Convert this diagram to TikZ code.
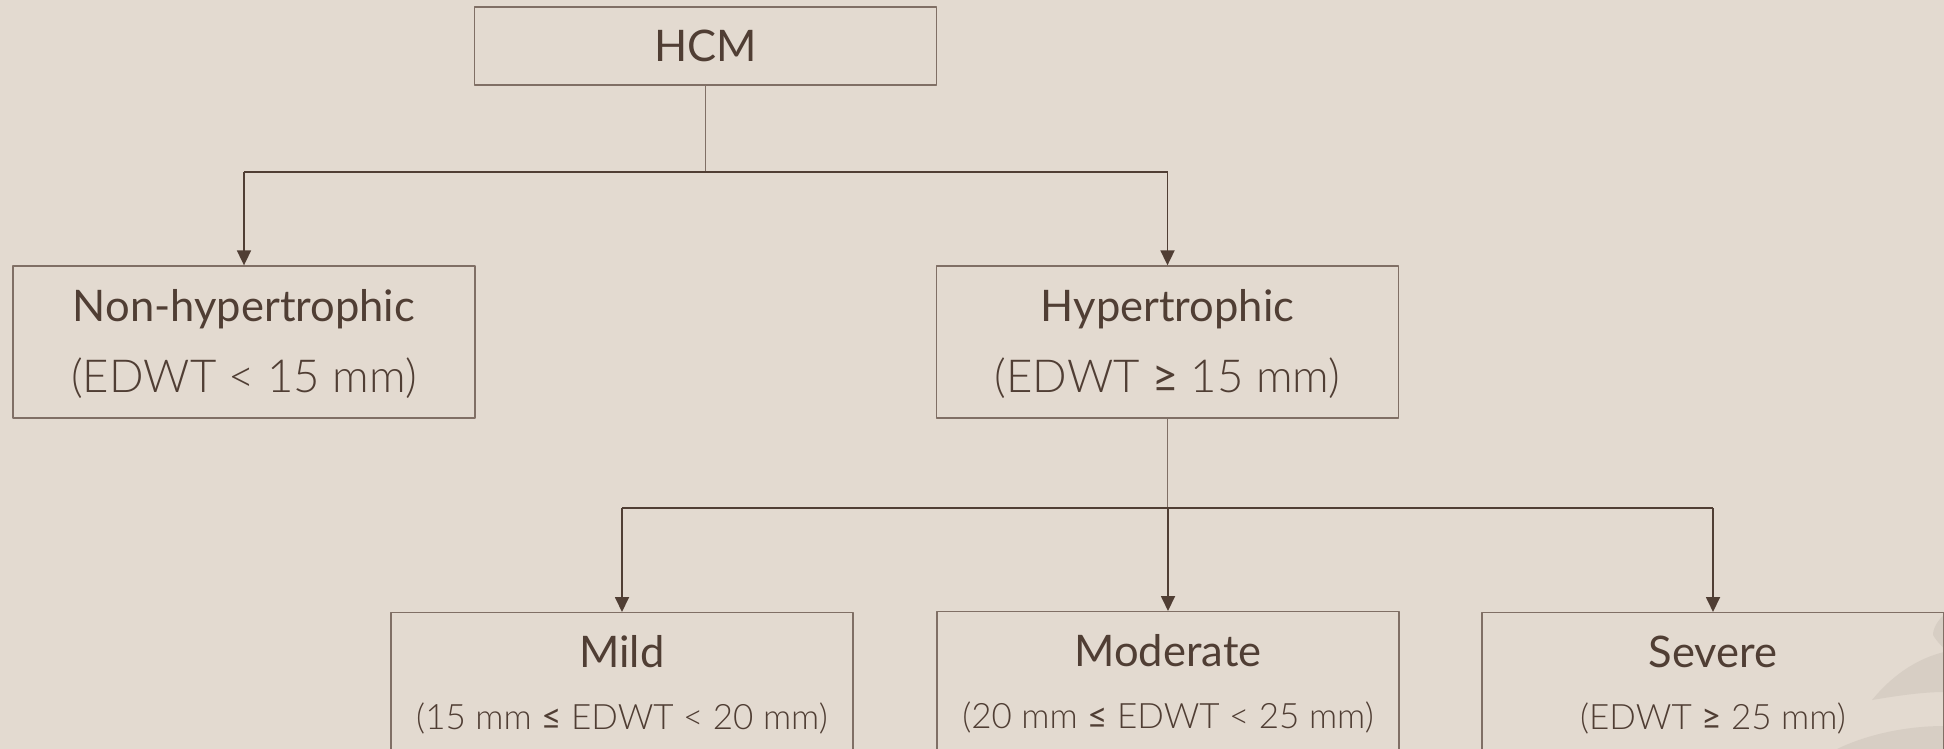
\documentclass[tikz,border=0pt]{standalone}
\usepackage{fontspec}
\setmainfont{Lato}
\newfontfamily\lightfont{Lato Light}
\usetikzlibrary{arrows.meta}

\definecolor{eeddcc}{RGB}{227,218,208}
\definecolor{ddccbb}{RGB}{215,206,196}
\definecolor{ttqqqq}{RGB}{80,62,52}
\definecolor{zzttqq}{RGB}{128,111,101}

\newcommand{\symgeq}{{\rmfamily ≥}}
\newcommand{\symleq}{{\rmfamily ≤}}

\begin{document}
\begin{tikzpicture}[line join=round,x=1pt,y=-1pt,
    box/.style={draw=zzttqq,line width=1.3pt,minimum width=462pt,inner sep=0pt,text=ttqqqq,align=center},
    upper/.style={box,minimum height=152pt,text height=103pt,text depth=3pt,font=\fontsize{43.5}{71}\selectfont},
    lower/.style={box,anchor=north,minimum height=153pt,text height=94pt,text depth=13pt,font=\fontsize{43.5}{62}\selectfont},
    link/.style={draw=ttqqqq,line width=1.8pt},
    stem/.style={draw=zzttqq,line width=1.3pt},
    arr/.style={link,-{Triangle[width=14pt,length=15pt]}}]
      \fill[eeddcc] (0,0) rectangle (1944,749);
      \useasboundingbox (0,0) rectangle (1944,749);
      \clip (0,0) rectangle (1944,749);
      % leaves in the corner
      \fill[ddccbb] (1944,615) .. controls (1938,620) and (1933,628) .. (1933,635) .. controls (1936,640) and (1940,645) .. (1944,648) -- cycle;
      \fill[ddccbb] (1872,700) .. controls (1895,672) and (1920,658) .. (1944,652) -- (1944,692) .. controls (1920,692) and (1890,697) .. cycle;
      \fill[ddccbb] (1837,749) .. controls (1870,733) and (1910,726) .. (1944,726) -- (1944,749) -- cycle;
      % boxes
      \node[box,minimum height=78pt,text height=32pt,text depth=0pt,font=\fontsize{43.5}{57}\selectfont] (hcm) at (705.5,46) {HCM};
      \node[upper] (nonhyp) at (244,342) {Non-hypertrophic\\{\lightfont\fontsize{45.5}{71}\selectfont (EDWT < 15 mm)}};
      \node[upper] (hyp) at (1167.5,342) {Hypertrophic\\{\lightfont\fontsize{45.5}{71}\selectfont (EDWT \symgeq{} 15 mm)}};
      \node[lower] (mild) at (622,612) {Mild\\{\lightfont\fontsize{35}{62}\selectfont (15 mm \symleq{} EDWT < 20 mm)}};
      \node[lower] (moderate) at (1168,611) {Moderate\\{\lightfont\fontsize{35}{62}\selectfont (20 mm \symleq{} EDWT < 25 mm)}};
      \node[lower] (severe) at (1713,612) {Severe\\{\lightfont\fontsize{35}{62}\selectfont (EDWT \symgeq{} 25 mm)}};
      % connectors
      \coordinate (split1) at (0,172);
      \coordinate (split2) at (0,508);
      \draw[stem] (hcm.south) -- (hcm.south |- split1);
      \draw[link] (nonhyp.north |- split1) -- (hyp.north |- split1);
      \draw[arr] (nonhyp.north |- split1) -- (nonhyp.north);
      \draw[arr] (hyp.north |- split1) -- (hyp.north);
      \draw[stem] (hyp.south) -- (hyp.south |- split2);
      \draw[link] (mild.north |- split2) -- (severe.north |- split2);
      \foreach \n in {mild,moderate,severe}
      \draw[arr] (\n.north |- split2) -- (\n.north);
    \end{tikzpicture}
\end{document}
